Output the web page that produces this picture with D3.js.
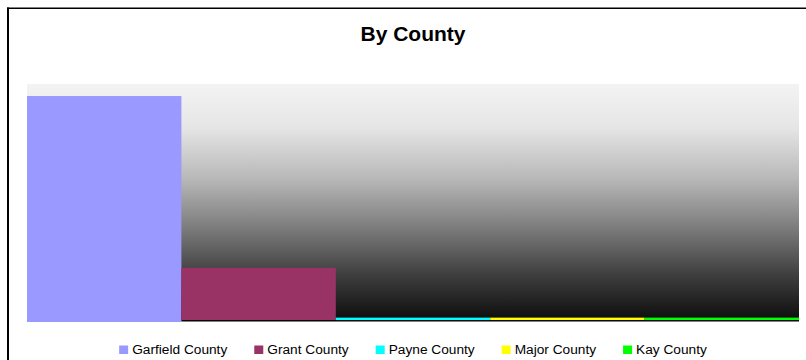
<!DOCTYPE html>
<html>
<head>
<meta charset="utf-8">
<script src="https://cdn.jsdelivr.net/npm/d3@7"></script>
<style>
  html, body { margin: 0; padding: 0; background: #ffffff; }
  svg { display: block; }
  text { font-family: "Liberation Sans", Arial, sans-serif; fill: #000; }
</style>
</head>
<body>
<svg id="chart" width="806" height="360"></svg>
<script>
// Counties and their values
const counties = ["Garfield County", "Grant County", "Payne County", "Major County", "Kay County"];
const values = [189, 44, 2, 2, 2];
const colors = ["#9999ff", "#993366", "#00ffff", "#ffff00", "#00ff00"];
const valueMax = 200;

const W = 806, H = 360;
const plot = { left: 27, right: 799, top: 84, bottom: 321 };

const svg = d3.select("#chart");

// Outer frame (top and left edges are the ones inside the view)
svg.append("line").attr("x1", 7).attr("x2", W).attr("y1", 8.2).attr("y2", 8.2)
  .attr("stroke", "#000").attr("stroke-width", 1.4);
svg.append("line").attr("x1", 8).attr("x2", 8).attr("y1", 7.5).attr("y2", H)
  .attr("stroke", "#000").attr("stroke-width", 2);

// Title
svg.append("text")
  .attr("x", 413).attr("y", 41)
  .attr("text-anchor", "middle")
  .style("font-size", "21px").style("font-weight", "bold")
  .text("By County");

// Plot background gradient: light grey at top fading to black
const defs = svg.append("defs");
const grad = defs.append("linearGradient").attr("id", "bgGrad")
  .attr("x1", 0).attr("y1", 0).attr("x2", 0).attr("y2", 1);
[[0, "#f3f3f3"], [0.18, "#e6e6e6"], [0.4, "#b8b8b8"], [0.6, "#7e7e7e"], [0.8, "#404040"], [1, "#0c0c0c"]]
  .forEach(([o, c]) => grad.append("stop").attr("offset", o).attr("stop-color", c));

svg.append("rect")
  .attr("x", plot.left).attr("y", plot.top)
  .attr("width", plot.right - plot.left).attr("height", plot.bottom - plot.top)
  .attr("fill", "url(#bgGrad)");

// Scales
const x = d3.scaleBand().domain(counties).range([plot.left, plot.right]).padding(0);
const y = d3.scaleLinear().domain([0, valueMax]).range([plot.bottom, plot.top]);

// Bars
svg.append("g").selectAll("rect")
  .data(counties.map((c, i) => ({ c, v: values[i], col: colors[i] })))
  .join("rect")
  .attr("x", d => x(d.c))
  .attr("y", d => y(d.v) - 1)
  .attr("width", x.bandwidth())
  .attr("height", d => y(0) - y(d.v))
  .attr("fill", d => d.col);

// Category axis line, running out from the edge of the first bar
svg.append("line")
  .attr("x1", x(counties[1])).attr("x2", plot.right)
  .attr("y1", plot.bottom).attr("y2", plot.bottom)
  .attr("stroke", "#000").attr("stroke-width", 1.2);

// Extend the first bar down over the axis baseline
svg.append("rect")
  .attr("x", x(counties[0])).attr("y", y(0) - 1)
  .attr("width", x.bandwidth()).attr("height", 2)
  .attr("fill", colors[0]);

// Legend: swatch + label, centred under the plot
const legend = svg.append("g");
const items = legend.selectAll("g").data(counties.map((c, i) => ({ c, col: colors[i] })))
  .join("g");
items.append("rect")
  .attr("x", 0).attr("y", -8.5).attr("width", 9).attr("height", 8.5)
  .attr("fill", d => d.col);
items.append("text")
  .attr("x", 13).attr("y", 0)
  .style("font-size", "13.7px")
  .text(d => d.c);

const gap = 27;
const widths = items.nodes().map(n => 13 + d3.select(n).select("text").node().getComputedTextLength());
const total = d3.sum(widths) + gap * (widths.length - 1);
let cx = 413 - total / 2;
items.attr("transform", (d, i) => {
  const t = `translate(${cx},354)`;
  cx += widths[i] + gap;
  return t;
});
</script>
</body>
</html>
